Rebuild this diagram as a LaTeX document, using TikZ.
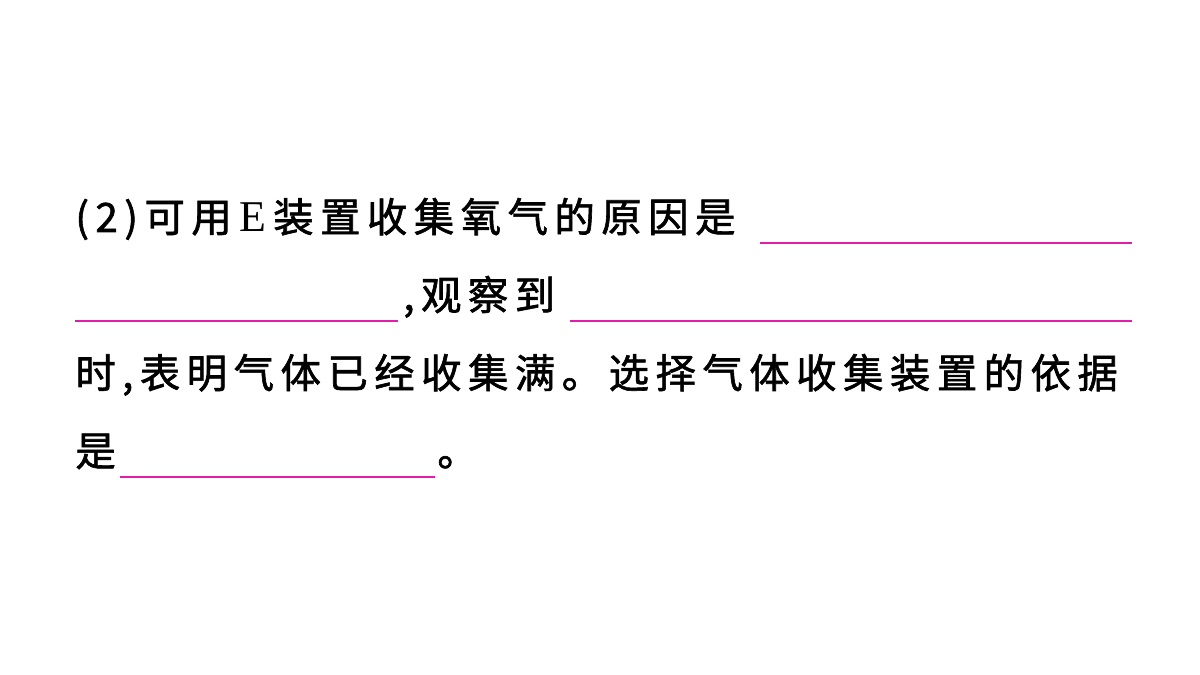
\documentclass[tikz,border=0pt]{standalone}
\usepackage{fontspec}
\newfontfamily\cjk{Noto Sans CJK SC}[LetterSpace=16,FakeBold=1.5]
\setmainfont{Liberation Serif}
\definecolor{blankline}{RGB}{225,30,170}
\tikzset{
  txt/.style={anchor=base west, inner sep=0pt, font=\cjk\fontsize{23}{23}\selectfont},
  blank/.style={draw=blankline, line width=0.7pt}
}
\begin{document}
\begin{tikzpicture}[x=0.02cm, y=-0.02cm]
\useasboundingbox (0,0) rectangle (1200,675);
% text lines
\node[txt] (l1) at (75,232) {(2)可用{\rmfamily\fontsize{25}{25}\selectfont\,E\,}装置收集氧气的原因是};
\node[txt] (l2) at (403,310) {,观察到};
\node[txt] (l3) at (75,388) {时,表明气体已经收集满。选择气体收集装置的依据};
\node[txt] (l4) at (75,466) {是};
\node[txt] (l5) at (437,466) {。};
% blanks
\coordinate (b1a) at (760,243); \coordinate (b1b) at (1132,243);
\coordinate (b2a) at (75,321);  \coordinate (b2b) at (398,321);
\coordinate (b3a) at (570,321); \coordinate (b3b) at (1132,321);
\coordinate (b4a) at (120,477); \coordinate (b4b) at (435,477);
\draw[blank] (b1a) -- (b1b);
\draw[blank] (b2a) -- (b2b);
\draw[blank] (b3a) -- (b3b);
\draw[blank] (b4a) -- (b4b);
\end{tikzpicture}
\end{document}
